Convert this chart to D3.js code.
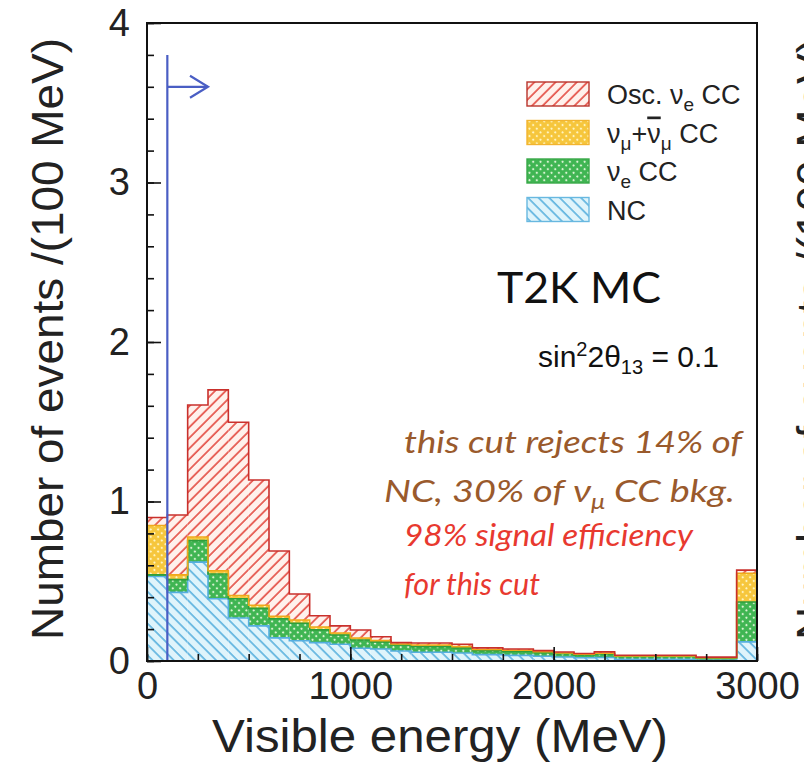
<!DOCTYPE html>
<html>
<head>
<meta charset="utf-8">
<script src="https://cdn.jsdelivr.net/npm/d3@7"></script>
<style>
  body { margin: 0; background: #ffffff; }
  svg { display: block; }
</style>
</head>
<body>
<svg id="chart" width="804" height="767"></svg>
<script>
// Bin edges of the visible-energy histogram (MeV)
const binEdges = [0, 100, 200, 300, 400, 500, 600, 700, 800, 900, 1000, 1100, 1200,
                  1300, 1500, 1600, 1750, 1900, 2000, 2100, 2200, 2300, 2700, 2900, 3000];

// Events per 100 MeV, one value per bin, for each stacked component
const ncEvents     = [0.53, 0.43, 0.62, 0.39, 0.27, 0.22, 0.145, 0.127, 0.115, 0.105, 0.08, 0.075, 0.063,
                      0.055, 0.05, 0.04, 0.035, 0.03, 0.025, 0.02, 0.022, 0.01, 0.005, 0.12];
const nueCCEvents  = [0.01, 0.08, 0.135, 0.155, 0.12, 0.11, 0.12, 0.11, 0.08, 0.058, 0.052, 0.045, 0.037,
                      0.035, 0.032, 0.025, 0.025, 0.022, 0.02, 0.018, 0.022, 0.018, 0.012, 0.25];
const numuCCEvents = [0.31, 0.03, 0.022, 0.021, 0.021, 0.02, 0.015, 0.02, 0.018, 0.013, 0.012, 0.008, 0.007,
                      0.01, 0.008, 0.007, 0.007, 0.006, 0.005, 0.004, 0.005, 0.004, 0.003, 0.18];
const oscNueEvents = [0.05, 0.375, 0.828, 1.134, 1.086, 0.785, 0.41, 0.163, 0.071, 0.044, 0.05, 0.024, 0.008,
                      0.013, 0.015, 0.01, 0.008, 0.007, 0.006, 0.005, 0.008, 0.004, 0.004, 0.02];

// Axis ticks
const xMajorTicks = [0, 1000, 2000, 3000];
const xMinorTicks = d3.range(0, 3001, 250);
const yMajorTicks = [0, 1, 2, 3, 4];
const yMinorTicks = d3.range(0, 4.001, 0.2);

// Energy cut marker
const cutEnergy = 100;
const cutLineTop = 3.8;
const cutArrowLevel = 3.6;
const cutArrowEnd = 300;

const svg = d3.select("#chart");
const frame = { left: 147, right: 757, top: 23, bottom: 661 };

const x = d3.scaleLinear().domain([0, 3000]).range([frame.left, frame.right]);
const y = d3.scaleLinear().domain([0, 4]).range([frame.bottom, frame.top]);

// ---- fill patterns ----
const defs = svg.append("defs");
function hatch(id, bg, line, angle) {
  const p = defs.append("pattern").attr("id", id)
    .attr("patternUnits", "userSpaceOnUse").attr("width", 7.5).attr("height", 7.5)
    .attr("patternTransform", `rotate(${angle})`);
  p.append("rect").attr("width", 7.5).attr("height", 7.5).attr("fill", bg);
  p.append("line").attr("x1", 1).attr("y1", -1).attr("x2", 1).attr("y2", 9)
    .attr("stroke", line).attr("stroke-width", 1.7);
}
function dots(id, bg, dot, size) {
  const p = defs.append("pattern").attr("id", id)
    .attr("patternUnits", "userSpaceOnUse").attr("width", size).attr("height", size)
    .attr("patternTransform", "rotate(45)");
  p.append("rect").attr("width", size).attr("height", size).attr("fill", bg);
  p.append("circle").attr("cx", size / 2).attr("cy", size / 2).attr("r", size * 0.22).attr("fill", dot);
}
hatch("patOsc", "#fff1ec", "#e5544a", 45);
hatch("patNC", "#dff4fb", "#62b6e0", -45);
dots("patNue", "#3fb552", "#d9f3d2", 5.2);
dots("patNumu", "#f6c63c", "#fff4bf", 5.2);

// ---- stacked histogram ----
const bins = binEdges.slice(0, -1).map((lo, i) => ({
  lo, hi: binEdges[i + 1],
  nc: ncEvents[i], nueCC: nueCCEvents[i], numuCC: numuCCEvents[i], osc: oscNueEvents[i]
}));

const layerStyle = {
  nc:     { fill: "url(#patNC)",   stroke: "#55aee0" },
  nueCC:  { fill: "url(#patNue)",  stroke: "#2f9e3c" },
  numuCC: { fill: "url(#patNumu)", stroke: "#f0a81a" },
  osc:    { fill: "url(#patOsc)",  stroke: "#c9302c" }
};
const series = d3.stack().keys(["nc", "nueCC", "numuCC", "osc"])(bins);

const hist = svg.append("g");
series.forEach(s => {
  hist.append("g").selectAll("rect").data(s).join("rect")
    .attr("x", d => x(d.data.lo))
    .attr("width", d => x(d.data.hi) - x(d.data.lo))
    .attr("y", d => y(d[1]))
    .attr("height", d => y(d[0]) - y(d[1]))
    .attr("fill", layerStyle[s.key].fill);
});
const stepLine = d3.line();
series.forEach(s => {
  const pts = [];
  s.forEach(d => { pts.push([x(d.data.lo), y(d[1])]); pts.push([x(d.data.hi), y(d[1])]); });
  hist.append("path").attr("d", stepLine(pts))
    .attr("fill", "none").attr("stroke", layerStyle[s.key].stroke).attr("stroke-width", 1.6);
});

// ---- cut marker ----
const cutColor = "#4a5ec4";
svg.append("line")
  .attr("x1", x(cutEnergy)).attr("x2", x(cutEnergy))
  .attr("y1", y(0)).attr("y2", y(cutLineTop))
  .attr("stroke", cutColor).attr("stroke-width", 2.2);
svg.append("line")
  .attr("x1", x(cutEnergy)).attr("x2", x(cutArrowEnd))
  .attr("y1", y(cutArrowLevel)).attr("y2", y(cutArrowLevel))
  .attr("stroke", cutColor).attr("stroke-width", 2.2);
svg.append("path")
  .attr("d", `M${x(cutArrowEnd) - 18},${y(cutArrowLevel) - 11} L${x(cutArrowEnd)},${y(cutArrowLevel)} L${x(cutArrowEnd) - 18},${y(cutArrowLevel) + 11}`)
  .attr("fill", "none").attr("stroke", cutColor).attr("stroke-width", 2.2);

// ---- axes ----
const axisFont = "'Liberation Sans', Arial, Helvetica, sans-serif";

svg.append("g").attr("transform", `translate(0,${frame.bottom})`)
  .call(d3.axisBottom(x).tickValues(xMajorTicks).tickSizeInner(-14).tickSizeOuter(0).tickPadding(11).tickFormat(d3.format("d")));
svg.append("g").attr("transform", `translate(0,${frame.bottom})`)
  .call(d3.axisBottom(x).tickValues(xMinorTicks).tickSizeInner(-7).tickSizeOuter(0).tickFormat(""));
svg.append("g").attr("transform", `translate(${frame.left},0)`)
  .call(d3.axisLeft(y).tickValues(yMajorTicks).tickSizeInner(-14).tickSizeOuter(0).tickPadding(17).tickFormat(d3.format("d")));
svg.append("g").attr("transform", `translate(${frame.left},0)`)
  .call(d3.axisLeft(y).tickValues(yMinorTicks).tickSizeInner(-7).tickSizeOuter(0).tickFormat(""));

svg.selectAll(".domain").remove();
svg.selectAll(".tick line").attr("stroke", "#111").attr("stroke-width", 1.6);
svg.selectAll(".tick text").attr("font-family", axisFont).attr("font-size", 38).attr("fill", "#222");

// frame
svg.append("rect")
  .attr("x", frame.left).attr("y", frame.top)
  .attr("width", frame.right - frame.left).attr("height", frame.bottom - frame.top)
  .attr("fill", "none").attr("stroke", "#111").attr("stroke-width", 2);

// axis titles
svg.append("text")
  .attr("x", 440).attr("y", 752)
  .attr("text-anchor", "middle")
  .attr("font-family", axisFont).attr("font-size", 46).attr("fill", "#222")
  .attr("textLength", 456).attr("lengthAdjust", "spacingAndGlyphs")
  .text("Visible energy (MeV)");

function yTitle(tx) {
  svg.append("text")
    .attr("transform", `translate(${tx},339) rotate(-90)`)
    .attr("text-anchor", "middle")
    .attr("font-family", axisFont).attr("font-size", 44).attr("fill", "#222")
    .attr("textLength", 602).attr("lengthAdjust", "spacingAndGlyphs")
    .text("Number of events /(100 MeV)");
}
yTitle(63);
// title of the neighbouring panel, mostly beyond the page edge
yTitle(828);

// ---- legend ----
const legendFont = "'Liberation Sans', Arial, Helvetica, sans-serif";
const legendKeys = ["osc", "numuCC", "nueCC", "nc"];
const legendSwatchStroke = { osc: "#b8342c", numuCC: "#f2b430", nueCC: "#38a848", nc: "#68b8e0" };
const legend = svg.append("g");
legendKeys.forEach((k, i) => {
  const base = 104 + i * 38.5;
  legend.append("rect")
    .attr("x", 527).attr("y", base - 22).attr("width", 62).attr("height", 24)
    .attr("fill", layerStyle[k].fill).attr("stroke", legendSwatchStroke[k]).attr("stroke-width", 1.4);
});
function legendText(i) {
  return legend.append("text")
    .attr("x", 607).attr("y", 104 + i * 38.5)
    .attr("font-family", legendFont).attr("font-size", 27).attr("fill", "#222");
}
{
  const t = legendText(0);
  t.append("tspan").text("Osc. ν");
  t.append("tspan").attr("font-size", 19).attr("dy", 7).text("e");
  t.append("tspan").attr("dy", -7).text(" CC");
}
{
  const t = legendText(1);
  t.append("tspan").text("ν");
  t.append("tspan").attr("font-size", 19).attr("dy", 7).text("μ");
  t.append("tspan").attr("dy", -7).text("+");
  t.append("tspan").style("text-decoration", "overline").text("ν");
  t.append("tspan").attr("font-size", 19).attr("dy", 7).text("μ");
  t.append("tspan").attr("dy", -7).text(" CC");
}
{
  const t = legendText(2);
  t.append("tspan").text("ν");
  t.append("tspan").attr("font-size", 19).attr("dy", 7).text("e");
  t.append("tspan").attr("dy", -7).text(" CC");
}
legendText(3).text("NC");

// ---- annotations ----
const noteFont = "Lato, 'Open Sans', sans-serif";
svg.append("text")
  .attr("x", 497).attr("y", 303)
  .attr("font-family", noteFont).attr("font-size", 42).attr("fill", "#111")
  .attr("textLength", 164).attr("lengthAdjust", "spacingAndGlyphs")
  .text("T2K MC");

{
  const t = svg.append("text")
    .attr("x", 538).attr("y", 367)
    .attr("font-family", axisFont).attr("font-size", 30).attr("fill", "#111");
  t.append("tspan").text("sin");
  t.append("tspan").attr("font-size", 20).attr("dy", -11).text("2");
  t.append("tspan").attr("dy", 11).text("2θ");
  t.append("tspan").attr("font-size", 20).attr("dy", 7).text("13");
  t.append("tspan").attr("dy", -7).text(" = 0.1");
}

const brown = "#9a5a2c";
const red = "#e8392f";
function note(txt, xPos, yPos, color, len) {
  return svg.append("text")
    .attr("x", xPos).attr("y", yPos)
    .attr("font-family", noteFont).attr("font-style", "italic")
    .attr("font-size", 31).attr("fill", color)
    .attr("textLength", len).attr("lengthAdjust", "spacingAndGlyphs")
    .text(txt);
}
note("this cut rejects 14% of", 404, 453, brown, 338);
{
  const t = svg.append("text")
    .attr("x", 384).attr("y", 502)
    .attr("font-family", noteFont).attr("font-style", "italic")
    .attr("font-size", 31).attr("fill", brown)
    .attr("textLength", 351).attr("lengthAdjust", "spacingAndGlyphs");
  t.append("tspan").text("NC, 30% of ν");
  t.append("tspan").attr("font-size", 21).attr("dy", 7).text("μ");
  t.append("tspan").attr("dy", -7).text(" CC bkg.");
}
note("98% signal efficiency", 404, 546, red, 289);
note("for this cut", 404, 595, red, 136);
</script>
</body>
</html>
